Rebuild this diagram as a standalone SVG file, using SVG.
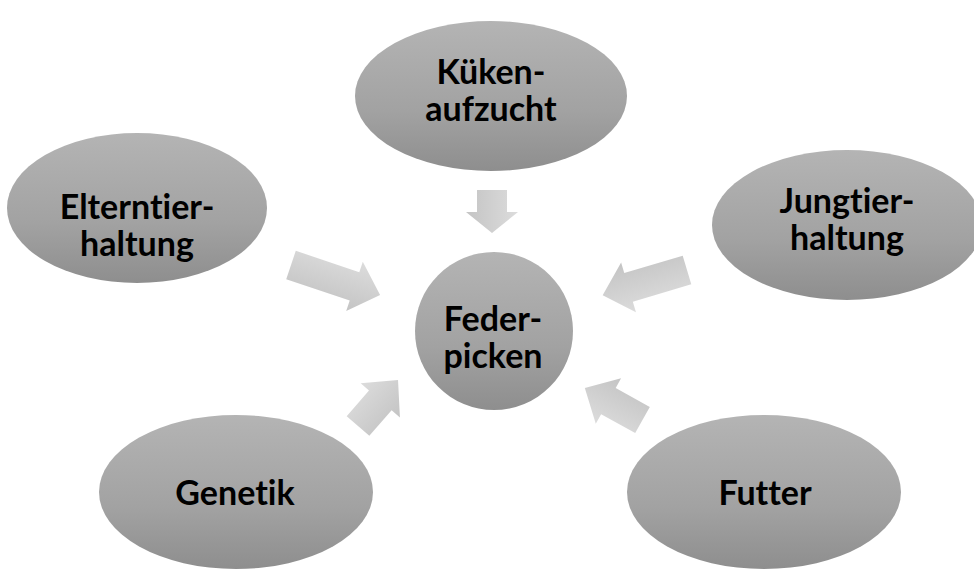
<svg xmlns="http://www.w3.org/2000/svg" width="974" height="570" viewBox="0 0 974 570">
<defs>
<linearGradient id="gNode" x1="0" y1="0" x2="0" y2="1">
<stop offset="0" stop-color="#b4b4b4"/>
<stop offset="0.6" stop-color="#a2a2a2"/>
<stop offset="1" stop-color="#8e8e8e"/>
</linearGradient>
<linearGradient id="gArrow" x1="0" y1="0" x2="0" y2="1">
<stop offset="0" stop-color="#dcdcdc"/>
<stop offset="1" stop-color="#c4c4c4"/>
</linearGradient>
</defs>
<style>
.node{fill:url(#gNode);}
.arrow{fill:url(#gArrow);}
.lbl{font-family:"Lato","Noto Sans","Liberation Sans",sans-serif;font-weight:bold;font-size:34px;fill:#000;text-anchor:middle;font-variant-ligatures:none;font-feature-settings:"liga" 0;}
</style>
<g id="connectors">
<polygon class="arrow" transform="translate(492,190) rotate(90)" points="0,-15 22,-15 22,-26 43,0 22,26 22,15 0,15"/>
<polygon class="arrow" transform="translate(291,265) rotate(18.6)" points="0,-15 67,-15 67,-26 94,0 67,26 67,15 0,15"/>
<polygon class="arrow" transform="translate(687,270) rotate(163.4)" points="0,-15 61,-15 61,-26 88,0 61,26 61,15 0,15"/>
<polygon class="arrow" transform="translate(358,426) rotate(-49)" points="0,-15 34,-15 34,-26 61,0 34,26 34,15 0,15"/>
<polygon class="arrow" transform="translate(642.5,420) rotate(-150.9)" points="0,-15 39,-15 39,-26 66,0 39,26 39,15 0,15"/>
</g>
<g id="node-kueken">
<ellipse class="node" cx="491" cy="96" rx="136" ry="75"/>
<text class="lbl" x="491" y="84"><tspan x="491">Küken-</tspan><tspan x="491" dy="37">aufzucht</tspan></text>
</g>
<g id="node-elterntier">
<ellipse class="node" cx="137" cy="208" rx="130" ry="75"/>
<text class="lbl" x="137" y="219"><tspan x="137">Elterntier-</tspan><tspan x="137" dy="37">haltung</tspan></text>
</g>
<g id="node-jungtier">
<ellipse class="node" cx="847" cy="225" rx="135" ry="75"/>
<text class="lbl" x="847" y="213"><tspan x="847">Jungtier-</tspan><tspan x="847" dy="37">haltung</tspan></text>
</g>
<g id="node-genetik">
<ellipse class="node" cx="236" cy="492" rx="137" ry="77"/>
<text class="lbl" x="235" y="505">Genetik</text>
</g>
<g id="node-futter">
<ellipse class="node" cx="764" cy="492" rx="137" ry="77"/>
<text class="lbl" x="765" y="505">Futter</text>
</g>
<g id="node-federpicken">
<circle class="node" cx="494" cy="331" r="79"/>
<text class="lbl" x="493" y="331"><tspan x="493">Feder-</tspan><tspan x="493" dy="37">picken</tspan></text>
</g>
</svg>
